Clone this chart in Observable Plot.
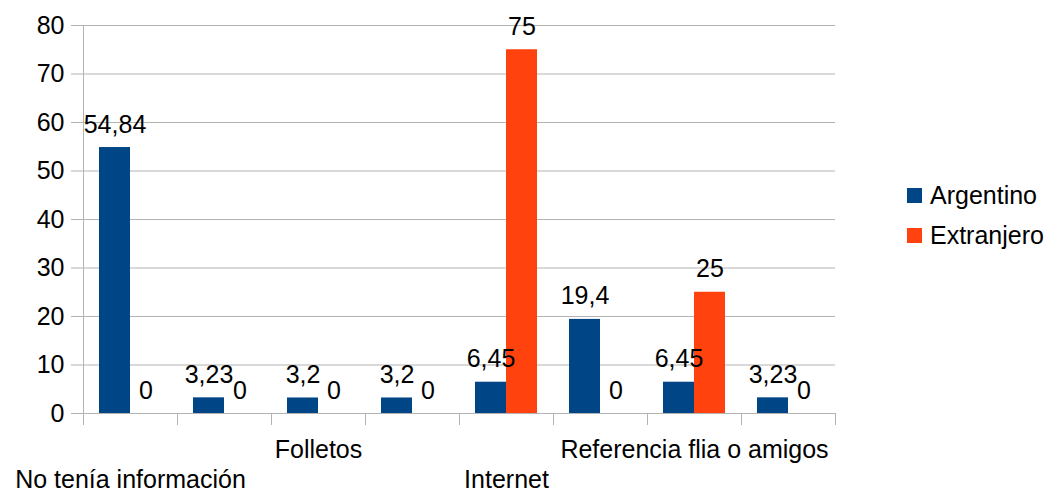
<!DOCTYPE html>
<html><head><meta charset="utf-8">
<script src="https://cdn.jsdelivr.net/npm/d3@7"></script>
<script src="https://cdn.jsdelivr.net/npm/@observablehq/plot@0.6"></script>
<style>
body{margin:0;background:#fff;font-family:"Liberation Sans",Arial,sans-serif;}
#wrap{position:relative;width:1051px;height:494px;}
#legend{position:absolute;left:907px;top:175px;font-size:25px;color:#000;}
.item{display:flex;align-items:center;height:40px;}
.sw{width:15px;height:15px;margin-right:8px;}
</style></head><body><div id="wrap"><div id="chart"></div><div id="legend"></div></div>
<script>
const categories = ["No tenía información", "Categoría 2", "Folletos", "Categoría 4", "Internet", "Categoría 6", "Referencia flia o amigos", "Categoría 8"];
const topRowLabels = ["", "", "Folletos", "", "", "", "Referencia flia o amigos", ""];
const bottomRowLabels = ["No tenía información", "", "", "", "Internet", "", "", ""];
const seriesNames = ["Argentino", "Extranjero"];
const argentino = [54.84, 3.23, 3.2, 3.2, 6.45, 19.4, 6.45, 3.23];
const extranjero = [0, 0, 0, 0, 75, 0, 25, 0];
const yTicks = [0, 10, 20, 30, 40, 50, 60, 70, 80];
const colors = ["#004586", "#ff420e"];

const data = categories.flatMap((c, i) => [
  {category: c, series: seriesNames[0], value: argentino[i]},
  {category: c, series: seriesNames[1], value: extranjero[i]}
]);
const fmt = v => String(v).replace(".", ",");
const FONT = '"Liberation Sans", Arial, sans-serif';

const chart = Plot.plot({
  width: 1051, height: 494,
  marginTop: 25, marginBottom: 81, marginLeft: 80, marginRight: 213,
  style: {fontFamily: FONT, fontSize: "25px", color: "#000", background: "#fff"},
  fx: {domain: categories, padding: 0, label: null},
  x: {domain: seriesNames, paddingInner: 0, paddingOuter: 0.5, axis: null},
  y: {domain: [0, 80], label: null},
  color: {domain: seriesNames, range: colors},
  marks: [
    Plot.gridY(yTicks, {stroke: "#b3b3b3", strokeOpacity: 1}),
    Plot.barY(data, {fx: "category", x: "series", y: "value", fill: "series"}),
    Plot.text(data, {fx: "category", x: "series", y: "value", text: d => fmt(d.value), dy: -23, fontSize: 25, fill: "#000"}),
    Plot.axisY(yTicks, {tickSize: 12, tickPadding: 7, stroke: "#b3b3b3", fill: "#000", fontSize: 25, label: null, tickFormat: d => String(d)}),
    Plot.axisFx({anchor: "bottom", tickSize: 0, tickPadding: 27, fontSize: 25, fill: "#000", label: null, tickFormat: d => topRowLabels[categories.indexOf(d)]}),
    Plot.axisFx({anchor: "bottom", tickSize: 0, tickPadding: 57, fontSize: 25, fill: "#000", label: null, tickFormat: d => bottomRowLabels[categories.indexOf(d)]})
  ]
});

// axis line and category boundary ticks through the chart's own scales
const fx = chart.scale("fx"), y = chart.scale("y");
const bounds = categories.map(c => fx.apply(c));
bounds.push(fx.apply(categories[categories.length - 1]) + fx.bandwidth);
const y0 = y.apply(0), yTop = y.apply(80);
const g = d3.select(chart).append("g").attr("stroke", "#b3b3b3").attr("stroke-width", 1);
bounds.forEach((b, i) => {
  g.append("line").attr("x1", Math.round(b) + 0.5).attr("x2", Math.round(b) + 0.5)
    .attr("y1", i === 0 ? yTop : y0).attr("y2", y0 + 12);
});
document.getElementById("chart").appendChild(chart);

const legend = document.getElementById("legend");
seriesNames.forEach((s, i) => {
  const it = document.createElement("div"); it.className = "item";
  const sw = document.createElement("span"); sw.className = "sw"; sw.style.background = colors[i];
  const t = document.createElement("span"); t.textContent = s;
  it.appendChild(sw); it.appendChild(t); legend.appendChild(it);
});
</script></body></html>
